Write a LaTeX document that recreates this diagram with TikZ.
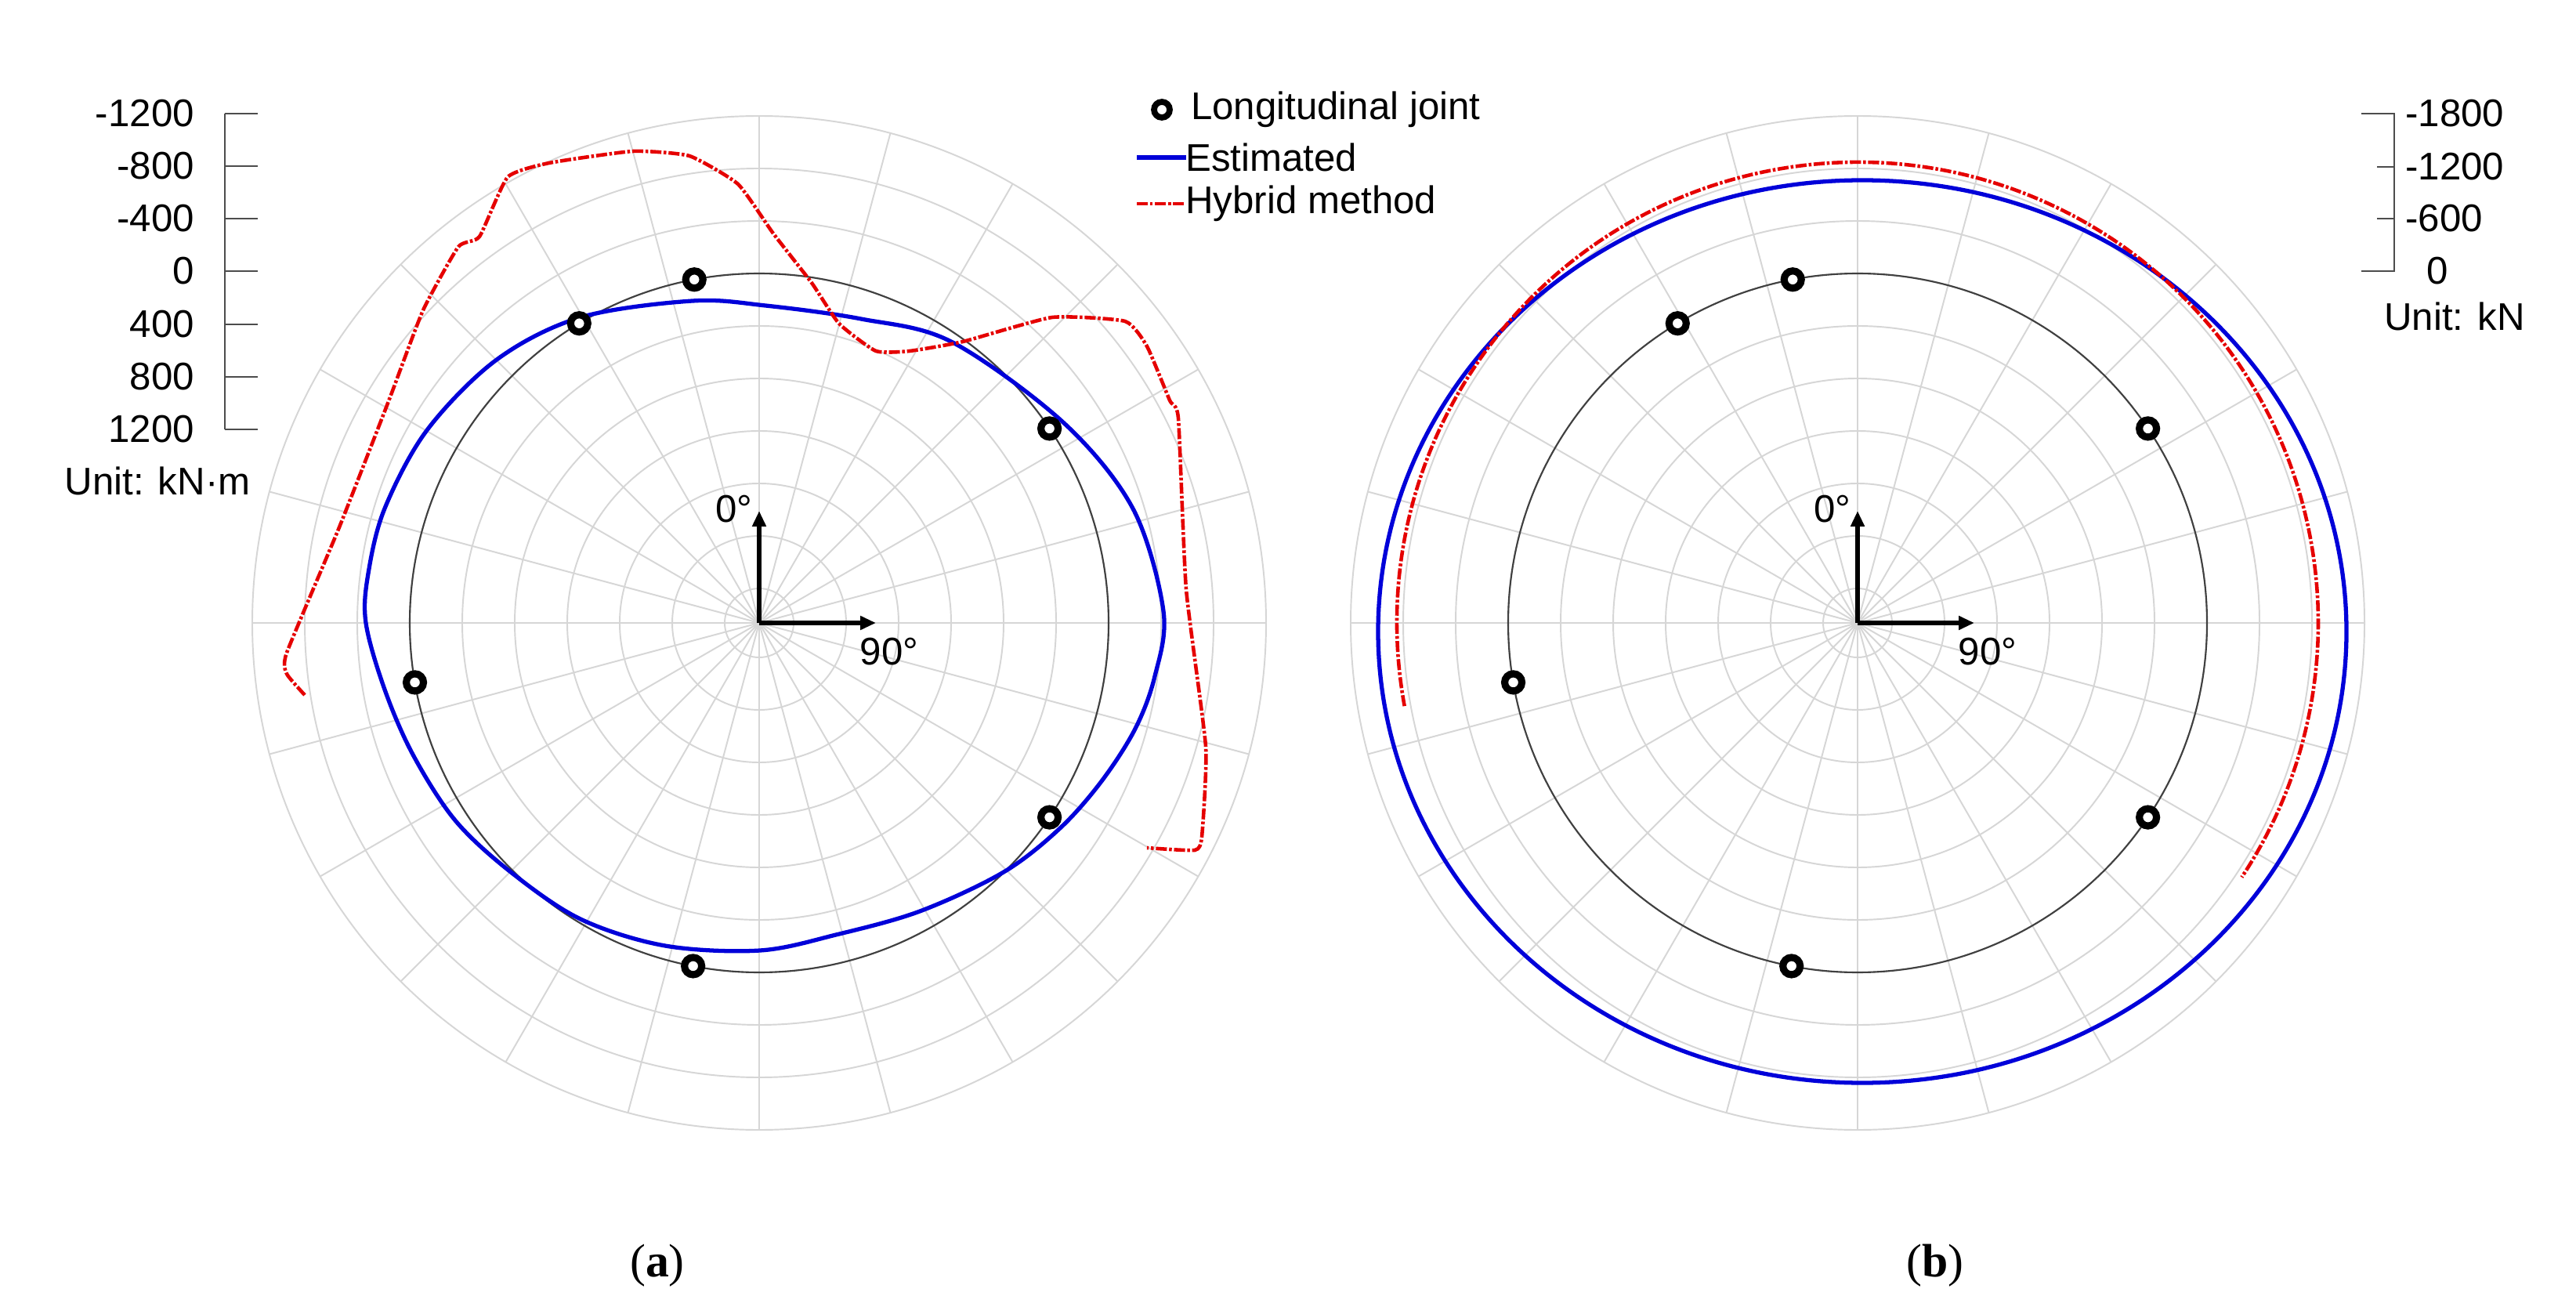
\documentclass[tikz,border=0pt]{standalone}
\usepackage{fontspec}
\setmainfont{Liberation Sans}
\newfontfamily\capserif{Liberation Serif}
\usetikzlibrary{arrows.meta}
\begin{document}
\begin{tikzpicture}[
  grid/.style={draw=black!16, line width=0.55pt},
  zero/.style={draw=black!75, line width=0.6pt},
  est/.style={draw=blue!85!black, line width=1.5pt},
  hyb/.style={draw=red!90!black, line width=1.3pt, dash pattern=on 4pt off 0.8pt on 1pt off 0.8pt},
  joint/.style={circle, draw=black, line width=2.6pt, fill=white, minimum size=0.22cm, inner sep=0pt},
  lab/.style={font=\fontsize{14}{15}\selectfont, inner sep=1pt},
  axarrow/.style={-{Triangle[length=0.2cm,width=0.17cm]}, line width=1.5pt},
  tick/.style={draw=black!70, line width=0.8pt}
]
\useasboundingbox (0,0) rectangle (32.88,16.53);
\fill[white] (0,0) rectangle (32.88,16.53);

% ---------- left polar plot ----------
\begin{scope}[shift={(9.69,8.58)}]
  \coordinate (cA) at (0,0);
  \foreach \k in {-6,...,3} \draw[grid] (0,0) circle ({4.46+0.67*\k});
  \foreach \a in {0,15,...,345} \draw[grid] (0,0) -- (\a:6.47);
  \draw[zero] (0,0) circle (4.46);
  \begin{scope}[x=0.1mm, y=0.1mm]
    \draw[est] plot[smooth cycle, tension=0.55] coordinates {
      (-85,411) (8,405) (130,388) (245,359) (388,256) (477,146) (516,15) (505,-68)
      (480,-135) (437,-202) (384,-262) (312,-318) (205,-368) (98,-398) (1,-418)
      (-120,-412) (-228,-378) (-317,-318) (-388,-252) (-442,-168) (-478,-85) (-502,0)
      (-499,63) (-478,146) (-424,246) (-335,336) (-228,390)};
    \draw[hyb] plot[smooth, tension=0.3] coordinates {
      (-580,-92) (-603,-65) (-603,-38) (-536,122) (-473,283) (-429,399) (-384,480)
      (-357,493) (-321,569) (-268,587) (-161,602) (-89,596) (-27,560) (18,497)
      (67,434) (102,382) (149,347) (192,347) (260,359) (374,390) (467,385) (495,353)
      (524,284) (535,261) (545,43) (570,-158) (565,-273) (556,-290) (495,-287)};
  \end{scope}
  \foreach \a/\n in {349.3/1,329/2,56.2/3,123.8/4,190.9/5,260.2/6}
    \node[joint] (jA\n) at ({90-\a}:4.46) {};
  \coordinate (uA) at (0,1.43);
  \coordinate (rA) at (1.49,0);
  \draw[axarrow] (cA) -- (uA);
  \draw[axarrow] (cA) -- (rA);
  \node[lab] (zA) at (-0.32,1.45) {0°};
  \node[lab] (nA) at (1.66,-0.37) {90°};
\end{scope}

% left scale
\draw[tick] (2.87,15.08) coordinate (sA1) -- (2.87,11.05) coordinate (sA2);
\foreach \v/\y [count=\i] in {-1200/15.08,-800/14.41,-400/13.74,0/13.07,400/12.39,800/11.72,1200/11.05}{
  \draw[tick] (2.87,\y) -- (3.29,\y);
  \node[lab, anchor=east] (sl\i) at (2.52,\y) {\v};
}
\node[lab] (unitA) at (2.01,10.39) {Unit: kN·m};

% legend
\node[joint, minimum size=0.2cm, line width=2.2pt] (legj) at (14.83,15.13) {};
\node[lab, anchor=west] (legjt) at (15.16,15.13) {Longitudinal joint};
\coordinate (le1) at (14.51,14.52); \coordinate (le2) at (15.14,14.52);
\draw[est] (le1) -- (le2);
\node[lab, anchor=west] (legE) at (15.09,14.52) {Estimated};
\coordinate (lh1) at (14.51,13.93); \coordinate (lh2) at (15.14,13.93);
\draw[hyb] (lh1) -- (lh2);
\node[lab, anchor=west] (legH) at (15.09,13.93) {Hybrid method};

% ---------- right polar plot ----------
\begin{scope}[shift={(23.71,8.58)}]
  \coordinate (cB) at (0,0);
  \foreach \k in {-6,...,3} \draw[grid] (0,0) circle ({4.46+0.67*\k});
  \foreach \a in {0,15,...,345} \draw[grid] (0,0) -- (\a:6.47);
  \draw[zero] (0,0) circle (4.46);
  \draw[est] (0.06,-0.11) ellipse [x radius=6.18, y radius=5.76];
  \draw[hyb] (190.4:5.88) arc[start angle=190.4, end angle=-33.5, radius=5.88];
  \foreach \a/\n in {349.3/1,329/2,56.2/3,123.8/4,190.9/5,260.2/6}
    \node[joint] (jB\n) at ({90-\a}:4.46) {};
  \coordinate (uB) at (0,1.43);
  \coordinate (rB) at (1.49,0);
  \draw[axarrow] (cB) -- (uB);
  \draw[axarrow] (cB) -- (rB);
  \node[lab] (zB) at (-0.32,1.45) {0°};
  \node[lab] (nB) at (1.66,-0.37) {90°};
\end{scope}

% right scale
\draw[tick] (30.14,15.08) -- (30.56,15.08) -- (30.56,13.07) -- (30.14,13.07);
\draw[tick] (30.34,14.40) -- (30.56,14.40);
\draw[tick] (30.34,13.74) -- (30.56,13.74);
\node[lab, anchor=west] (sr1) at (30.66,15.08) {-1800};
\node[lab, anchor=west] (sr2) at (30.66,14.40) {-1200};
\node[lab, anchor=west] (sr3) at (30.66,13.74) {-600};
\node[lab, anchor=west] (sr4) at (30.93,13.07) {0};
\node[lab] (unitB) at (31.33,12.49) {Unit: kN};

% captions
\node[font=\capserif\fontsize{17}{18}\selectfont] (capA) at (8.39,0.38) {(\textbf{a})};
\node[font=\capserif\fontsize{17}{18}\selectfont] (capB) at (24.70,0.38) {(\textbf{b})};
\end{tikzpicture}
\end{document}
